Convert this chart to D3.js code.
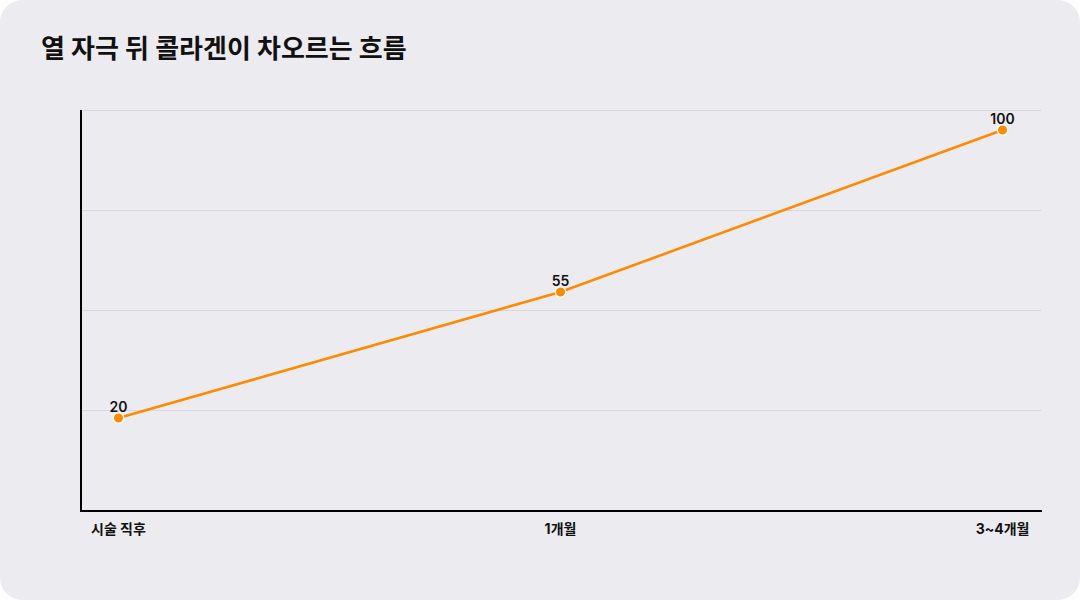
<!DOCTYPE html>
<html>
<head>
<meta charset="utf-8">
<script src="https://cdn.jsdelivr.net/npm/d3@7/dist/d3.min.js"></script>
<style>
  html, body { margin: 0; padding: 0; background: #fff; }
  svg { display: block; }
</style>
</head>
<body>
<svg id="chart" width="1080" height="600"></svg>
<script>
let title = '열 자극 뒤 콜라겐이 차오르는 흐름'
let stages = ['시술 직후', '1개월', '3~4개월']
let collagen = [20, 55, 100]

let width = 1080
let height = 600
let font = 'Inter, "Noto Sans CJK KR", "Noto Sans", sans-serif'

let plot = { left: 80, right: 1041, top: 110, bottom: 510 }

let svg = d3.select('#chart')

// card background
svg.append('rect')
	.attr('width', width)
	.attr('height', height)
	.attr('rx', 22)
	.attr('fill', '#ecebf0')

svg.append('text')
	.text(title)
	.attr('x', 41)
	.attr('y', 58)
	.attr('font-family', font)
	.attr('font-size', 26)
	.attr('font-weight', 700)
	.attr('fill', '#111')

let x = d3.scalePoint()
	.domain(stages)
	.range([plot.left, plot.right])
	.padding(0.087)

let y = d3.scaleLinear()
	.domain([0, 100])
	.range([plot.bottom - 20, plot.top + 20])

// plain gridlines, 4 equal bands over the plot box
let grid = d3.scaleLinear()
	.domain([0, 4])
	.range([plot.top, plot.bottom])

svg.append('g')
	.selectAll('line')
	.data(d3.range(0, 4))
	.enter()
	.append('line')
	.attr('x1', plot.left)
	.attr('x2', plot.right)
	.attr('y1', d => grid(d) + 0.5)
	.attr('y2', d => grid(d) + 0.5)
	.attr('stroke', '#d8d8dc')
	.attr('stroke-width', 1)

// axes
svg.append('line')
	.attr('x1', plot.left + 1)
	.attr('x2', plot.left + 1)
	.attr('y1', plot.top)
	.attr('y2', plot.bottom + 1)
	.attr('stroke', '#000')
	.attr('stroke-width', 2)

svg.append('line')
	.attr('x1', plot.left)
	.attr('x2', plot.right + 1)
	.attr('y1', plot.bottom + 1)
	.attr('y2', plot.bottom + 1)
	.attr('stroke', '#000')
	.attr('stroke-width', 2)

svg.append('g')
	.selectAll('text')
	.data(stages)
	.enter()
	.append('text')
	.text(d => d)
	.attr('x', d => x(d))
	.attr('y', 534)
	.attr('text-anchor', 'middle')
	.attr('font-family', font)
	.attr('font-size', 14)
	.attr('font-weight', 700)
	.attr('fill', '#111')

let points = stages.map((s, i) => ({ stage: s, value: collagen[i] }))

let line = d3.line()
	.x(d => x(d.stage))
	.y(d => y(d.value))

svg.append('path')
	.datum(points)
	.attr('d', line)
	.attr('fill', 'none')
	.attr('stroke', '#ff8a00')
	.attr('stroke-width', 2.6)

svg.append('g')
	.selectAll('circle')
	.data(points)
	.enter()
	.append('circle')
	.attr('cx', d => x(d.stage))
	.attr('cy', d => y(d.value))
	.attr('r', 5.2)
	.attr('fill', '#ff8a00')
	.attr('stroke', '#fff')
	.attr('stroke-width', 1.3)

svg.append('g')
	.selectAll('text')
	.data(points)
	.enter()
	.append('text')
	.text(d => d.value)
	.attr('x', d => x(d.stage))
	.attr('y', d => y(d.value) - 6)
	.attr('text-anchor', 'middle')
	.attr('font-family', font)
	.attr('font-size', 14)
	.attr('font-weight', 600)
	.attr('fill', '#111')
</script>
</body>
</html>
